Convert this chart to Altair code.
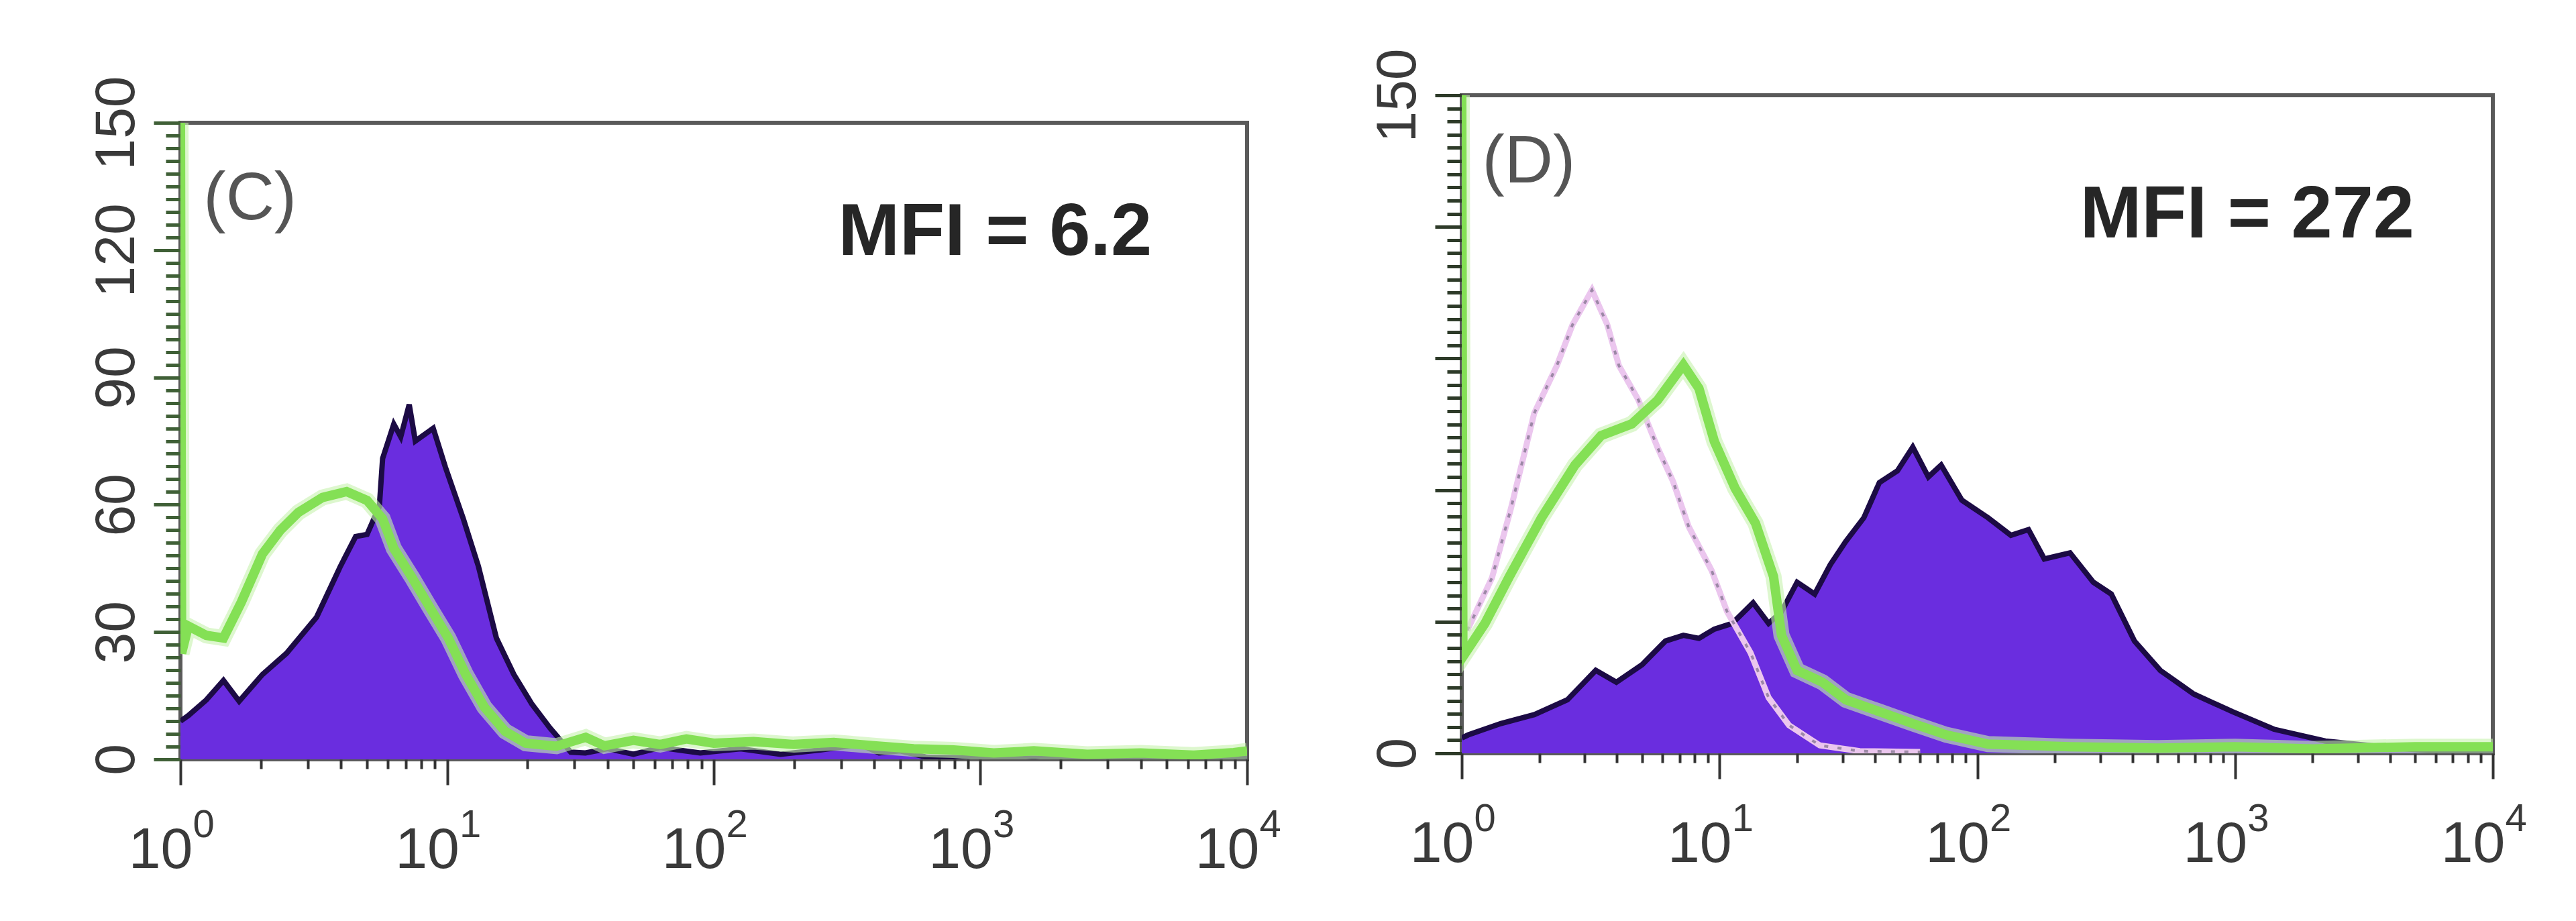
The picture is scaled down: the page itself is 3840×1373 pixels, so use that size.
import altair as alt
import pandas as pd

# ---------------- Panel (C) ----------------
c_fill_x = [1.0, 1.07, 1.25, 1.45, 1.66, 2.03, 2.5, 3.24, 3.98, 4.54, 5.01, 5.57, 5.73, 6.31, 6.7, 7.21,
            7.6, 8.87, 9.86, 11.5, 13.1, 15.3, 17.8, 20.8, 24.3, 29.1, 33, 40, 50, 63, 89, 126, 178, 251,
            355, 417, 500, 630, 1000, 3160, 10000]
c_fill_y = [9, 10.3, 14, 18.6, 13.7, 20, 25, 33.5, 45.5, 52.5, 53, 59.6, 70.9, 79, 76, 83.6,
            75, 78, 68.8, 56.7, 45.5, 28.6, 20, 13, 7.4, 1.7, 1.5, 2.5, 1.2, 2.8, 1.5, 2.5, 1.2, 2.2,
            3.5, 1.5, 2.0, 0.5, 0.3, 0.2, 0.2]

c_line_x = [1.0, 1.01, 1.07, 1.25, 1.45, 1.69, 2.03, 2.37, 2.77, 3.41, 4.2, 5.01, 5.73, 6.31, 7.41, 8.65,
            10.1, 11.75, 13.8, 16.5, 19.7, 25.7, 33.1, 38.9, 50, 63, 79, 100, 141, 200, 282, 398, 562,
            794, 1122, 1585, 2512, 3981, 6310, 8913, 10000]
c_line_y = [150, 25, 31.4, 29.2, 28.6, 37, 48.4, 54, 58.2, 61.7, 63.1, 61, 56.7, 49.7, 42.7, 35.6,
            28.6, 20, 12.3, 6.6, 3.8, 3.1, 5.2, 3.2, 4.5, 3.5, 4.8, 3.8, 4.2, 3.5, 4.0, 3.2, 2.5,
            2.2, 1.5, 2.0, 1.2, 1.5, 1.0, 1.6, 2.0]

# ---------------- Panel (D) ----------------
d_fill_x = [1.0, 1.06, 1.42, 1.91, 2.57, 3.31, 3.98, 5.01, 6.17, 7.24, 8.32, 9.55, 11.2, 13.5, 15.5,
            17.4, 20.0, 23.4, 26.9, 30.9, 36.3, 41.7, 49.0, 56.2, 64.6, 72.4, 87.1, 110, 135, 158,
            182, 229, 282, 331, 407, 513, 692, 977, 1413, 2239, 3715, 6166, 10000]
d_fill_y = [3.5, 4.2, 6.8, 8.8, 12.2, 18.9, 16.2, 20.2, 25.6, 26.9, 26.2, 28.3, 29.6, 34.3, 29.6,
            32.3, 39, 36.3, 43, 48.3, 53.7, 61.7, 64.4, 69.8, 63, 65.7, 57.7, 53.7, 49.7, 51,
            44.3, 45.7, 39, 36.3, 25.6, 18.9, 13.5, 9.5, 5.5, 2.8, 1.5, 0.4, 0]

d_line_x = [1.0, 1.01, 1.23, 1.53, 2.04, 2.75, 3.47, 4.57, 5.75, 7.24, 8.32, 9.55, 11.5, 13.8, 16.2,
            17.4, 20.0, 25.1, 30.9, 41.7, 56.2, 75.9, 110, 229, 500, 1000, 2000, 5000, 10000]
d_line_y = [150, 22, 29.6, 40.3, 53.7, 65.7, 72.4, 75.1, 80.5, 88.5, 83.2, 71.1, 60.4, 52.4, 40.3,
            26.9, 18.9, 16.2, 12.2, 9.5, 6.8, 4.2, 2.1, 1.5, 1.2, 1.5, 1.0, 1.5, 1.5]

d_iso_x = [1.05, 1.31, 1.55, 1.91, 2.34, 2.69, 3.2, 3.67, 4.07, 4.84, 5.75, 6.61, 7.59, 9.33, 10.7,
           13.2, 15.5, 18.6, 24.5, 35, 60]
d_iso_y = [28, 40, 55.7, 77.5, 88.4, 97.7, 105.6, 97.7, 88.4, 80.6, 69.7, 61.9, 51.7, 41.6, 32.3,
           22.9, 12.7, 6.4, 1.8, 0.5, 0.3]

# ---------------- Axis ticks / labels ----------------
x_tick_values = [1, 2, 3, 4, 5, 6, 7, 8, 9, 10, 20, 30, 40, 50, 60, 70, 80, 90,
                 100, 200, 300, 400, 500, 600, 700, 800, 900,
                 1000, 2000, 3000, 4000, 5000, 6000, 7000, 8000, 9000, 10000]
x_decades = [1, 10, 100, 1000, 10000]
x_base_label = "10"
x_exponents = ["0", "1", "2", "3", "4"]
y_tick_values = list(range(0, 151, 3))

c_labels = {"panel": "(C)", "mfi": "MFI = 6.2"}
d_labels = {"panel": "(D)", "mfi": "MFI = 272"}

PURPLE = "#6a2ddf"
OUTLINE = "#1c0b45"
GREEN = "#84e055"
GREEN_HALO = "#c6f2ae"
ISO = "#ebc6ee"
ISO_DOT = "#9c88a6"
FONT = "Liberation Sans"
LABEL_COLOR = "#3a3a3a"

decade_test = "indexof([" + ",".join(str(d) for d in x_decades) + "], datum.value) >= 0"
exp_expr = " : ".join(
    f"datum.value == {d} ? '{e}'" for d, e in zip(x_decades, x_exponents)
) + " : ''"


def make_axes(y_label_test, tick_color):
    xaxis = alt.Axis(
        values=x_tick_values,
        labelExpr=f"{decade_test} ? '{x_base_label}' : ''",
        tickSize={"condition": {"test": decade_test, "value": 38}, "value": 14},
        tickColor="#333333",
        tickWidth=4,
        domain=False,
        grid=False,
        labelFont=FONT,
        labelFontSize=86,
        labelColor=LABEL_COLOR,
        labelPadding=55,
        labelOffset=-30,
        labelFlush=False,
        labelOverlap=False,
        title=None,
    )
    sup_axis = alt.Axis(
        orient="bottom",
        values=x_decades,
        labelExpr=exp_expr,
        ticks=False,
        tickSize=0,
        domain=False,
        grid=False,
        labelFont=FONT,
        labelFontSize=58,
        labelColor=LABEL_COLOR,
        labelPadding=69,
        labelOffset=34,
        labelFlush=False,
        labelOverlap=False,
        title=None,
    )
    yaxis = alt.Axis(
        values=y_tick_values,
        labelExpr=f"{y_label_test} ? datum.label : ''",
        tickSize={"condition": {"test": "datum.value % 30 == 0", "value": 40}, "value": 22},
        tickColor=tick_color,
        tickWidth=5,
        domain=False,
        grid=False,
        labelFont=FONT,
        labelFontSize=84,
        labelColor=LABEL_COLOR,
        labelAngle=270,
        labelAlign="center",
        labelBaseline="bottom",
        labelPadding=12,
        labelOverlap=False,
        labelFlush=False,
        title=None,
    )
    return xaxis, sup_axis, yaxis


def panel(fill_x, fill_y, line_x, line_y, iso_x, iso_y, texts, text_pos, w, h, y_label_test, tick_color):
    xs = alt.Scale(type="log", domain=[1, 10000], nice=False)
    ys = alt.Scale(domain=[0, 150], nice=False)
    xaxis, sup_axis, yaxis = make_axes(y_label_test, tick_color)

    def enc(ch, ax=xaxis):
        return ch.encode(
            x=alt.X("x:Q", scale=xs, axis=ax),
            y=alt.Y("y:Q", scale=ys, axis=yaxis),
        )

    fill_df = pd.DataFrame({"x": fill_x, "y": fill_y})
    line_df = pd.DataFrame({"x": line_x, "y": line_y})

    layers = [
        enc(alt.Chart(fill_df).mark_area(
            color=PURPLE, opacity=1, clip=True,
            line={"color": OUTLINE, "strokeWidth": 8}))
    ]
    if iso_x is not None:
        iso_df = pd.DataFrame({"x": iso_x, "y": iso_y})
        layers.append(enc(alt.Chart(iso_df).mark_line(color=ISO, strokeWidth=9, clip=True)))
        layers.append(enc(alt.Chart(iso_df).mark_line(color=ISO_DOT, strokeWidth=4,
                                                       strokeDash=[6, 14], clip=True)))
    layers.append(enc(alt.Chart(line_df).mark_line(color=GREEN_HALO, strokeWidth=24, clip=True,
                                                   opacity=0.6)))
    layers.append(enc(alt.Chart(line_df).mark_line(color=GREEN, strokeWidth=14, clip=True)))

    lab_df = pd.DataFrame({"x": [text_pos["panel"][0]], "y": [text_pos["panel"][1]], "t": [texts["panel"]]})
    mfi_df = pd.DataFrame({"x": [text_pos["mfi"][0]], "y": [text_pos["mfi"][1]], "t": [texts["mfi"]]})
    layers.append(enc(alt.Chart(lab_df).mark_text(
        font=FONT, fontSize=100, color="#555555", align="left", baseline="middle")).encode(text="t:N"))
    layers.append(enc(alt.Chart(mfi_df).mark_text(
        font=FONT, fontSize=110, fontWeight="bold", color="#262626", align="right",
        baseline="middle")).encode(text="t:N"))

    main = alt.layer(*layers)
    sup = enc(alt.Chart(line_df).mark_line(opacity=0), sup_axis)
    return alt.layer(main, sup).resolve_axis(x="independent").properties(width=w, height=h)


def spacer(h):
    return alt.Chart(pd.DataFrame({"v": [0]})).mark_point(opacity=0, size=1).encode(
        x=alt.value(0), y=alt.value(0)
    ).properties(width=1, height=h, view=alt.ViewBackground(strokeOpacity=0))


left = panel(c_fill_x, c_fill_y, c_line_x, c_line_y, None, None, c_labels,
             {"panel": (1.22, 132), "mfi": (4395, 124)}, 1590, 949,
             "datum.value % 30 == 0", "#3f5f36")

right = panel(d_fill_x, d_fill_y, d_line_x, d_line_y, d_iso_x, d_iso_y, d_labels,
              {"panel": (1.2, 134.7), "mfi": (4960, 122.6)}, 1537, 981,
              "(datum.value == 0 || datum.value == 150)", "#2d3a28")

left_col = alt.vconcat(spacer(42), left, spacing=0)
right_col = alt.vconcat(spacer(1), right, spacing=0)

chart = alt.hconcat(left_col, right_col, spacing=126).properties(
    padding={"left": 121, "top": 58, "right": 5, "bottom": 5},
    background="white",
).configure_view(stroke="#5a5a5a", strokeWidth=6)

chart.save("out.html", embed_options={"renderer": "svg", "actions": False})
